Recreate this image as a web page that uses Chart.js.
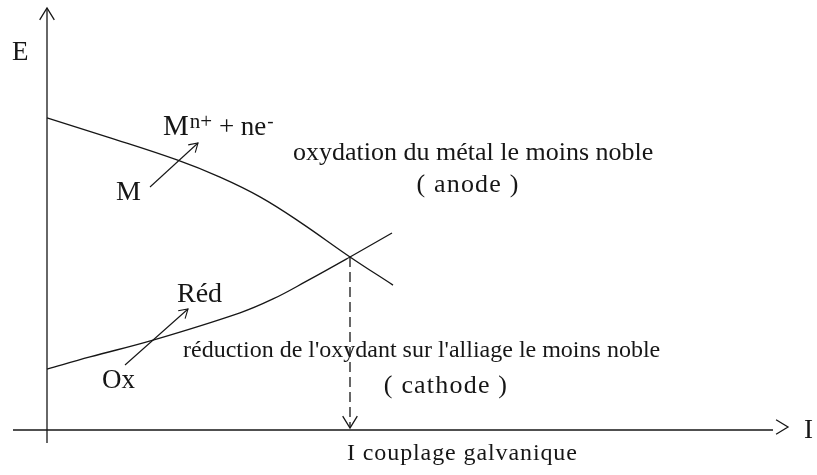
<!DOCTYPE html>
<html>
<head>
<meta charset="utf-8">
<script src="https://cdn.jsdelivr.net/npm/chart.js@4"></script>
<style>
  body { margin: 0; background: #fff; }
</style>
</head>
<body>
<canvas id="myChart" width="817" height="475"></canvas>
<script>
const anodeI = [0, 1.2, 2.6, 3.46, 4.26, 5.06, 6.06, 6.92];
const anodeE = [7.43, 6.98, 6.43, 6.02, 5.55, 4.95, 4.12, 3.45];
const cathodeI = [0, 0.86, 2.12, 3.86, 4.52, 5.2, 6.06, 6.9];
const cathodeE = [1.45, 1.74, 2.14, 2.79, 3.12, 3.55, 4.12, 4.69];
const couplageI = 6.06;
const couplageE = 4.12;

const toPts = (xs, ys) => xs.map((x, i) => ({ x: x, y: ys[i] }));

const FONT = '"Liberation Serif", "Times New Roman", serif';
const INK = '#161616';

function arrowHead(ctx, x1, y1, x2, y2, size) {
  const a = Math.atan2(y2 - y1, x2 - x1);
  ctx.beginPath();
  ctx.moveTo(x2 - size * Math.cos(a - 0.55), y2 - size * Math.sin(a - 0.55));
  ctx.lineTo(x2, y2);
  ctx.lineTo(x2 - size * Math.cos(a + 0.55), y2 - size * Math.sin(a + 0.55));
  ctx.stroke();
}

const schema = {
  id: 'schema',
  afterDatasetsDraw(chart) {
    const ctx = chart.ctx;
    const xs = chart.scales.x, ys = chart.scales.y;
    const px = v => xs.getPixelForValue(v);
    const py = v => ys.getPixelForValue(v);
    const x0 = px(0), y0 = py(0);

    ctx.save();
    ctx.strokeStyle = INK;
    ctx.fillStyle = INK;
    ctx.lineWidth = 1.3;

    // axe E
    ctx.beginPath();
    ctx.moveTo(x0, y0 + 13);
    ctx.lineTo(x0, py(10) - 2);
    ctx.stroke();
    arrowHead(ctx, x0, y0, x0, py(10) - 2, 14);

    // axe I
    ctx.beginPath();
    ctx.moveTo(x0 - 34, y0);
    ctx.lineTo(px(14.52), y0);
    ctx.stroke();
    arrowHead(ctx, px(14.5), y0 - 3, px(14.82), y0 - 3, 14);

    // pointillés vers I couplage
    ctx.setLineDash([10, 5]);
    ctx.beginPath();
    ctx.moveTo(px(couplageI), py(couplageE));
    ctx.lineTo(px(couplageI), y0 - 3);
    ctx.stroke();
    ctx.setLineDash([]);
    arrowHead(ctx, px(couplageI), y0 - 20, px(couplageI), y0 - 2, 14);

    // petites flèches M -> Mn+ et Ox -> Réd
    ctx.lineWidth = 1.1;
    ctx.beginPath();
    ctx.moveTo(150, 187);
    ctx.lineTo(198, 143);
    ctx.stroke();
    arrowHead(ctx, 150, 187, 198, 143, 10);
    ctx.beginPath();
    ctx.moveTo(125, 365);
    ctx.lineTo(188, 309);
    ctx.stroke();
    arrowHead(ctx, 125, 365, 188, 309, 10);

    // textes
    ctx.textBaseline = 'alphabetic';
    const txt = (s, x, y, size, align, spacing) => {
      ctx.font = size + 'px ' + FONT;
      ctx.textAlign = align || 'left';
      ctx.letterSpacing = (spacing || 0) + 'px';
      ctx.fillText(s, x, y);
      ctx.letterSpacing = '0px';
    };

    txt('E', 12, 60, 27);
    txt('I', 804, 438, 27);

    // M^{n+} + ne^-
    let x = 163;
    ctx.textAlign = 'left';
    ctx.font = '29px ' + FONT;
    ctx.fillText('M', x, 135); x += ctx.measureText('M').width + 1;
    ctx.font = '21px ' + FONT;
    ctx.fillText('n+', x, 128); x += ctx.measureText('n+').width;
    ctx.font = '27px ' + FONT;
    ctx.fillText(' + ne', x, 135); x += ctx.measureText(' + ne').width + 1;
    ctx.font = '19px ' + FONT;
    ctx.fillText('-', x, 127);

    txt('M', 116, 200, 28);
    txt('oxydation du métal le moins noble', 293, 160, 26);
    txt('( anode )', 468, 192, 26, 'center', 1.2);
    txt('Réd', 177, 302, 28);
    txt('Ox', 102, 388, 27);
    txt("réduction de l'oxydant sur l'alliage le moins noble", 183, 357, 24);
    txt('( cathode )', 446, 393, 26, 'center', 1.2);
    txt('I couplage galvanique', 347, 460, 24, 'left', 0.9);

    ctx.restore();
  }
};

const ctx = document.getElementById('myChart');

new Chart(ctx, {
  type: 'scatter',
  data: {
    datasets: [{
      label: 'oxydation du métal le moins noble (anode)',
      data: toPts(anodeI, anodeE),
      showLine: true,
      borderColor: INK,
      borderWidth: 1.3,
      pointRadius: 0,
      tension: 0.4,
      clip: false
    }, {
      label: "réduction de l'oxydant sur l'alliage le moins noble (cathode)",
      data: toPts(cathodeI, cathodeE),
      showLine: true,
      borderColor: INK,
      borderWidth: 1.3,
      pointRadius: 0,
      tension: 0.4,
      clip: false
    }]
  },
  options: {
    responsive: false,
    animation: false,
    devicePixelRatio: 1,
    layout: { padding: { left: 47, right: 20, top: 10, bottom: 45 } },
    plugins: { legend: { display: false }, tooltip: { enabled: false } },
    scales: {
      x: { type: 'linear', min: 0, max: 15, display: false },
      y: { type: 'linear', min: 0, max: 10, display: false }
    }
  },
  plugins: [schema]
});
</script>
</body>
</html>
